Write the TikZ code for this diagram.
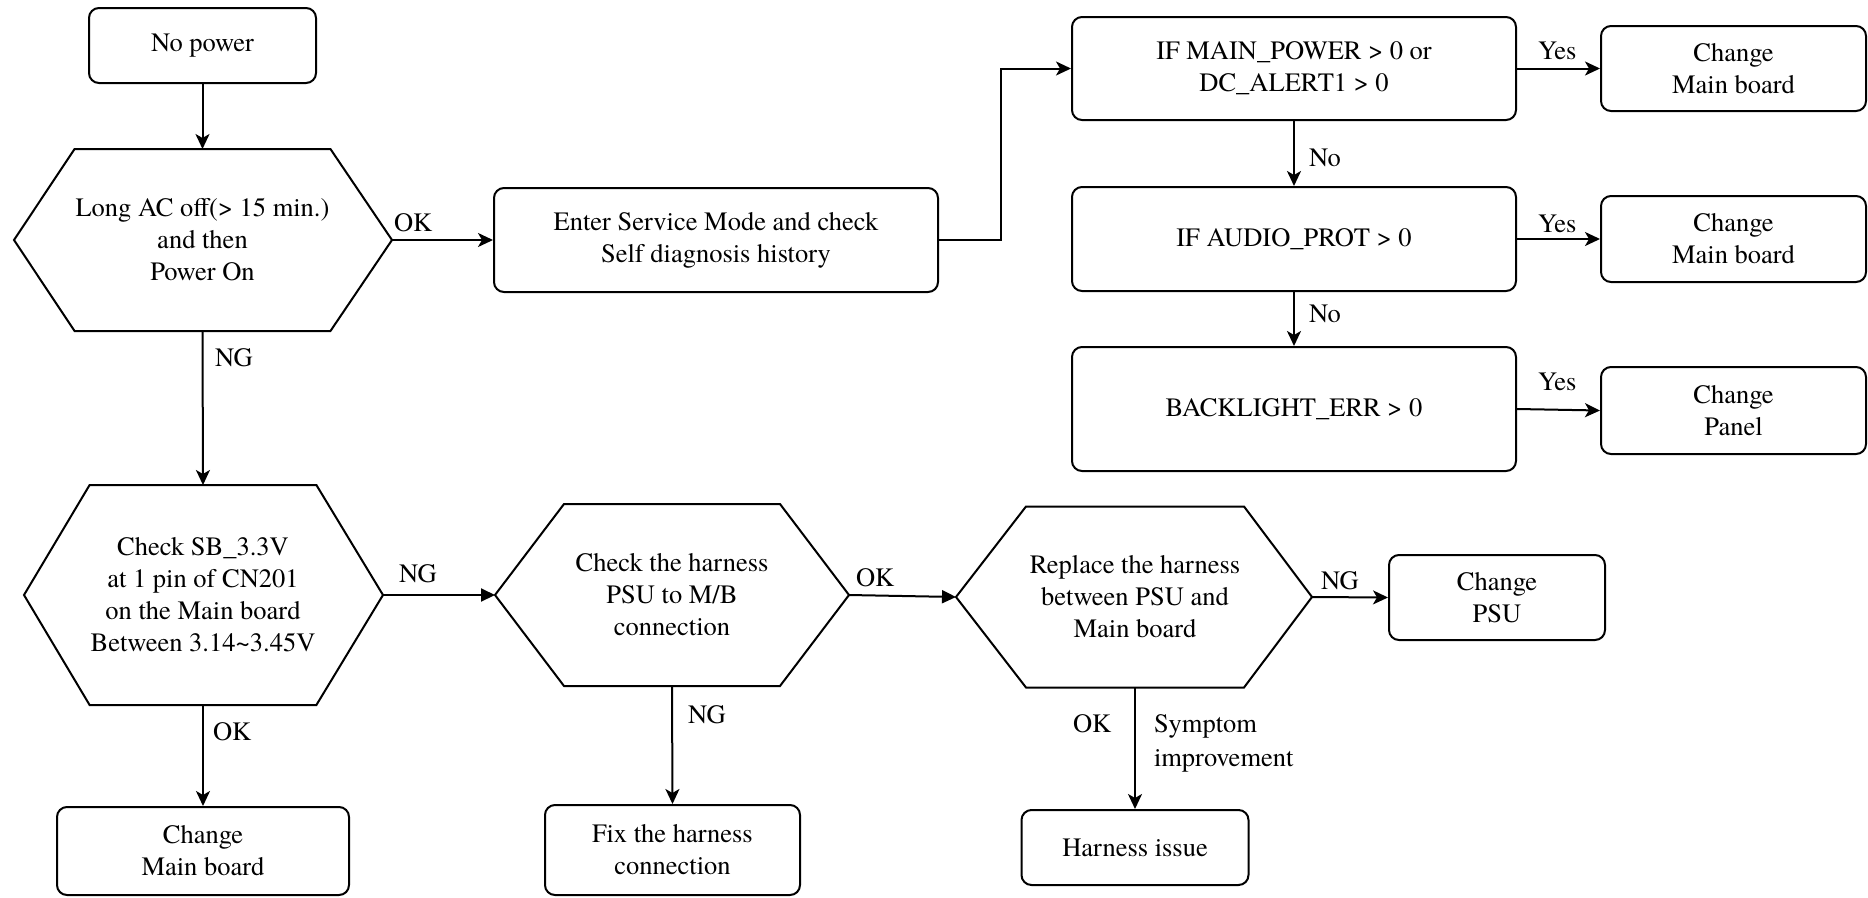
\documentclass[tikz,border=0pt]{standalone}
\usepackage{fontspec}
\setmainfont{texgyretermes}[Extension=.otf, UprightFont=*-regular, BoldFont=*-bold, ItalicFont=*-italic, BoldItalicFont=*-bolditalic]
\usetikzlibrary{arrows.meta}
\begin{document}
\begin{tikzpicture}[x=1pt,y=-1pt,
  font=\fontsize{26.5pt}{32pt}\selectfont,
  line width=2pt,
  box/.style={draw, rounded corners=10pt, align=center, inner sep=0pt},
  hexin/.style={align=center, inner sep=0pt},
  hexline/.style={draw, line join=miter},
  arr/.style={-{Stealth[length=15pt,width=14pt,inset=4pt]}},
  tarr/.style={-{Triangle[length=14pt,width=13pt]}},
  lbl/.style={anchor=base west, inner sep=0pt}]
\useasboundingbox (0,0) rectangle (1868,897);

% nodes
\node[box, minimum width=227pt, minimum height=75pt] (np) at (202.5,45.5) {No power};

\node[hexin, minimum width=227pt, minimum height=180pt] (h1) at (202.5,240) {Long AC off(> 15 min.)\\and then\\Power On};
\coordinate (h1w) at (14,240);
\coordinate (h1e) at (392,240);
\draw[hexline] (h1w) -- (h1.north west) -- (h1.north east) -- (h1e) -- (h1.south east) -- (h1.south west) -- cycle;

\node[box, minimum width=444pt, minimum height=104pt] (es) at (716,240) {Enter Service Mode and check\\Self diagnosis history};

\node[box, minimum width=444pt, minimum height=103pt] (im) at (1294,68.5) {IF MAIN\_POWER > 0 or\\DC\_ALERT1 > 0};
\node[box, minimum width=265pt, minimum height=85pt] (cm1) at (1733.5,68.5) {Change\\Main board};
\node[box, minimum width=444pt, minimum height=104pt] (ia) at (1294,239) {IF AUDIO\_PROT > 0};
\node[box, minimum width=265pt, minimum height=86pt] (cm2) at (1733.5,239) {Change\\Main board};
\node[box, minimum width=444pt, minimum height=124pt] (bl) at (1294,409) {BACKLIGHT\_ERR > 0};
\node[box, minimum width=265pt, minimum height=87pt] (cp) at (1733.5,410.5) {Change\\Panel};

\node[hexin, minimum width=216pt, minimum height=218pt] (h2) at (203,595) {Check SB\_3.3V\\at 1 pin of CN201\\on the Main board\\Between 3.14\textasciitilde 3.45V};
\coordinate (h2w) at (24,595);
\coordinate (h2e) at (383,595);
\draw[hexline] (h2w) -- (h2.north west) -- (h2.north east) -- (h2e) -- (h2.south east) -- (h2.south west) -- cycle;

\node[box, minimum width=292pt, minimum height=88pt] (cm3) at (203,851) {Change\\Main board};

\node[hexin, minimum width=214pt, minimum height=180pt] (h3) at (672,595) {Check the harness\\PSU to M/B\\connection};
\coordinate (h3w) at (495,595);
\coordinate (h3e) at (849,595);
\draw[hexline] (h3w) -- (h3.north west) -- (h3.north east) -- (h3e) -- (h3.south east) -- (h3.south west) -- cycle;

\node[box, minimum width=255pt, minimum height=90pt] (fx) at (672.5,850) {Fix the harness\\connection};

\node[hexin, minimum width=216pt, minimum height=179pt] (h4) at (1135,597) {Replace the harness\\between PSU and\\Main board};
\coordinate (h4w) at (956,597);
\coordinate (h4e) at (1312,597);
\draw[hexline] (h4w) -- (h4.north west) -- (h4.north east) -- (h4e) -- (h4.south east) -- (h4.south west) -- cycle;

\node[box, minimum width=216pt, minimum height=85pt] (psu) at (1497,597.5) {Change\\PSU};
\node[box, minimum width=227pt, minimum height=75pt] (hi) at (1135,847.5) {Harness issue};

% connectors
\draw[arr] (np.south) -- (h1.north);
\draw[arr] (h1e) -- (es.west);
\draw[arr] (h1.south) -- (h2.north);
\draw[arr] (es.east) -- ++(62,0) |- (im.west);
\draw[arr] (im.east) -- (cm1.west);
\draw[arr] (im.south) -- (ia.north);
\draw[arr] (ia.east) -- (cm2.west);
\draw[arr] (ia.south) -- (bl.north);
\draw[arr] (bl.east) -- (cp.west);
\draw[tarr] (h2e) -- (h3w);
\draw[arr] (h2.south) -- (cm3.north);
\draw[tarr] (h3e) -- (h4w);
\draw[arr] (h3.south) -- (fx.north);
\draw[arr] (h4e) -- (psu.west);
\draw[arr] (h4.south) -- (hi.north);

% labels
\node[lbl] (l1) at (393,231) {OK};
\node[lbl] (l2) at (214,366) {NG};
\node[lbl] (l3) at (1537,59) {Yes};
\node[lbl] (l4) at (1537,232) {Yes};
\node[lbl] (l5) at (1537,390) {Yes};
\node[lbl] (l6) at (1308,166) {No};
\node[lbl] (l7) at (1308,322) {No};
\node[lbl] (l8) at (398,582) {NG};
\node[lbl] (l9) at (212,740) {OK};
\node[lbl] (l10) at (687,723) {NG};
\node[lbl] (l11) at (855,586) {OK};
\node[lbl] (l12) at (1320,589) {NG};
\node[lbl] (l13) at (1072,732) {OK};
\node[lbl] (l14) at (1153,732) {Symptom};
\node[lbl] (l15) at (1153,766) {improvement};
\end{tikzpicture}
\end{document}
